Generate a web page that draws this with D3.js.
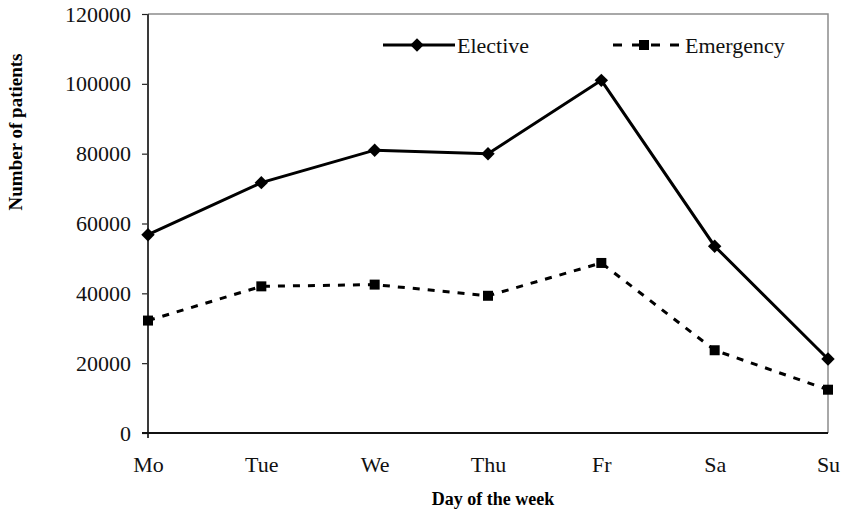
<!DOCTYPE html>
<html>
<head>
<meta charset="utf-8">
<script src="https://cdn.jsdelivr.net/npm/d3@7"></script>
<style>
  body { margin: 0; background: #fff; }
  svg { display: block; font-family: "Liberation Serif", "Times New Roman", serif; }
</style>
</head>
<body>
<div id="chart"></div>
<script>
// data
const days = ["Mo", "Tue", "We", "Thu", "Fr", "Sa", "Su"];
const elective = [56800, 71700, 81000, 80000, 101000, 53500, 21200];
const emergency = [32200, 42000, 42500, 39300, 48700, 23700, 12400];
const yTicks = [0, 20000, 40000, 60000, 80000, 100000, 120000];

const width = 842, height = 512;
const margin = { top: 14, right: 14, bottom: 79, left: 148 };
const innerW = width - margin.left - margin.right;
const innerH = height - margin.top - margin.bottom;
const serif = "Liberation Serif, Times New Roman, serif";

const svg = d3.select("#chart").append("svg")
    .attr("width", width)
    .attr("height", height);

const g = svg.append("g")
    .attr("transform", `translate(${margin.left},${margin.top})`);

const x = d3.scalePoint().domain(days).range([0, innerW]);
const y = d3.scaleLinear().domain([0, 120000]).range([innerH, 0]);

// top + right frame (gray)
g.append("path")
    .attr("d", `M0,0H${innerW}V${innerH}`)
    .attr("fill", "none")
    .attr("stroke", "#8c8c8c")
    .attr("stroke-width", 1.5);

// y axis
const yAxis = g.append("g")
    .call(d3.axisLeft(y).tickValues(yTicks).tickSize(6).tickPadding(11).tickFormat(d3.format("d")));
yAxis.select(".domain").remove();
yAxis.selectAll(".tick line").attr("stroke", "#222").attr("stroke-width", 1.2);
yAxis.selectAll(".tick text")
    .attr("font-size", "22px")
    .attr("font-family", serif)
    .attr("fill", "#111");

g.append("line")
    .attr("x1", 0).attr("x2", 0)
    .attr("y1", 0).attr("y2", innerH + 5)
    .attr("stroke", "#3a3a3a")
    .attr("stroke-width", 2);

// x axis
const xAxis = g.append("g")
    .attr("transform", `translate(0,${innerH})`)
    .call(d3.axisBottom(x).tickSize(0).tickPadding(23));
xAxis.select(".domain").remove();
xAxis.selectAll(".tick text")
    .attr("font-size", "22px")
    .attr("font-family", serif)
    .attr("fill", "#111");

g.append("line")
    .attr("x1", -6).attr("x2", innerW)
    .attr("y1", innerH).attr("y2", innerH)
    .attr("stroke", "#111")
    .attr("stroke-width", 2);

// lines
const line = d3.line().x((d, i) => x(days[i])).y(d => y(d));

g.append("path")
    .datum(emergency)
    .attr("d", line)
    .attr("fill", "none")
    .attr("stroke", "#000")
    .attr("stroke-width", 3)
    .attr("stroke-dasharray", "7,8");

g.append("path")
    .datum(elective)
    .attr("d", line)
    .attr("fill", "none")
    .attr("stroke", "#000")
    .attr("stroke-width", 3);

const diamond = d3.symbol().type(d3.symbolSquare).size(90)();
const square = d3.symbol().type(d3.symbolSquare).size(100)();

g.selectAll(".mk-el")
    .data(elective)
    .join("path")
    .attr("class", "mk-el")
    .attr("d", diamond)
    .attr("transform", (d, i) => `translate(${x(days[i])},${y(d)}) rotate(45)`)
    .attr("fill", "#000");

g.selectAll(".mk-em")
    .data(emergency)
    .join("path")
    .attr("class", "mk-em")
    .attr("d", square)
    .attr("transform", (d, i) => `translate(${x(days[i])},${y(d)})`)
    .attr("fill", "#000");

// legend
const legend = svg.append("g").attr("font-size", "22px").attr("font-family", serif).attr("fill", "#111");
const legY = 45;

legend.append("line")
    .attr("x1", 383).attr("x2", 455).attr("y1", legY).attr("y2", legY)
    .attr("stroke", "#000").attr("stroke-width", 3);
legend.append("path")
    .attr("d", diamond)
    .attr("transform", `translate(417,${legY}) rotate(45)`)
    .attr("fill", "#000");
legend.append("text")
    .attr("x", 457).attr("y", legY).attr("dy", "0.35em")
    .text("Elective");

legend.append("line")
    .attr("x1", 613).attr("x2", 683).attr("y1", legY).attr("y2", legY)
    .attr("stroke", "#000").attr("stroke-width", 3)
    .attr("stroke-dasharray", "9,10");
legend.append("path")
    .attr("d", square)
    .attr("transform", `translate(644,${legY})`)
    .attr("fill", "#000");
legend.append("text")
    .attr("x", 685).attr("y", legY).attr("dy", "0.35em")
    .text("Emergency");

// axis titles
svg.append("text")
    .attr("x", 493).attr("y", 505)
    .attr("text-anchor", "middle")
    .attr("font-size", "18px")
    .attr("font-family", serif)
    .attr("font-weight", "bold")
    .text("Day of the week");

svg.append("text")
    .attr("transform", "translate(22,132) rotate(-90)")
    .attr("text-anchor", "middle")
    .attr("font-size", "19px")
    .attr("font-family", serif)
    .attr("font-weight", "bold")
    .text("Number of patients");
</script>
</body>
</html>
